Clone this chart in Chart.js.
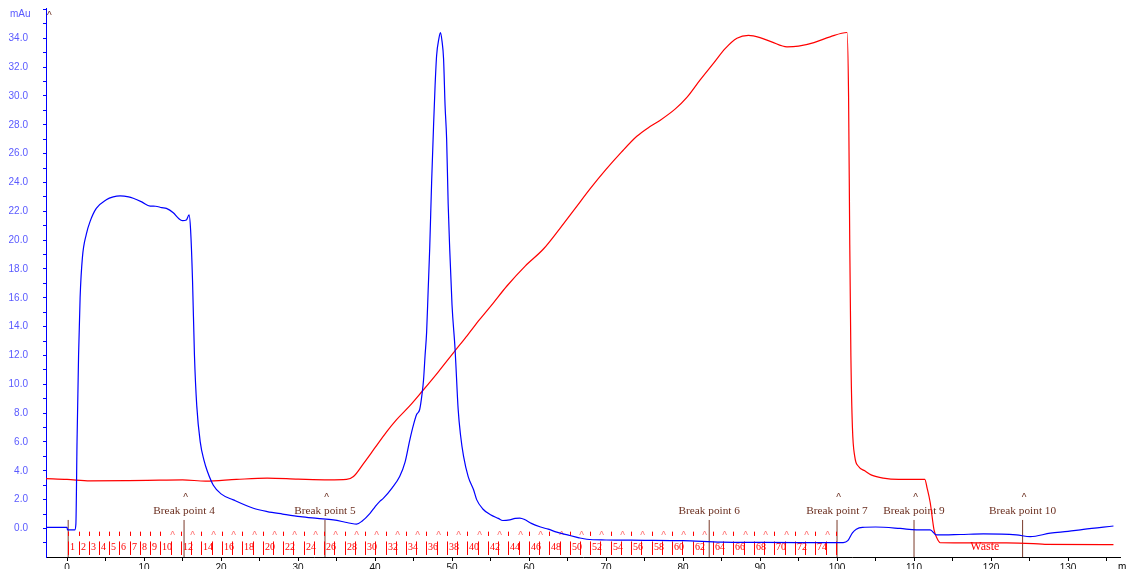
<!DOCTYPE html>
<html>
<head>
<meta charset="utf-8">
<script src="https://cdn.jsdelivr.net/npm/chart.js@4.4.1/dist/chart.umd.min.js"></script>
<style>
  html, body { margin: 0; padding: 0; background: #fff; }
  #chart { display: block; }
</style>
</head>
<body>
<canvas id="chart" width="1130" height="569"></canvas>
<script>
// UV trace (mAu), blue
const uvX = [-2.73, 0.0, 0.06, 1.0, 1.15, 1.3, 1.5, 1.7, 2.0, 2.5, 3.0, 3.8, 5.1, 6.0, 6.9, 8.0, 8.6, 9.7, 10.8, 11.5,
  12.3, 12.9, 13.8, 14.5, 15.0, 15.5, 15.85, 16.05, 16.3, 16.55, 16.85, 17.3, 17.8, 18.2, 19.0, 20.0, 21.6, 24.2, 26.0, 28.0,
  30.3, 32.5, 34.6, 36.0, 36.8, 37.6, 38.3, 39.35, 40.0, 40.65, 41.1, 42.2, 43.2, 43.9, 44.5, 45.0, 45.4, 45.8, 46.1, 46.3,
  46.5, 46.7, 46.9, 47.1, 47.35, 47.6, 47.8, 48.0, 48.3, 48.5, 48.7, 48.9, 49.1, 49.3, 49.5, 49.7, 50.0, 50.4, 50.8, 51.1,
  51.5, 52.1, 52.8, 53.2, 54.0, 55.0, 56.0, 56.6, 57.5, 58.2, 58.8, 59.5, 60.3, 61.5, 62.5, 63.6, 65.0, 66.5, 67.5, 70,
  75, 80, 85, 90, 95, 100.8, 101.4, 102.0, 102.5, 103.3, 105, 108.2, 110.3, 112.1, 112.9, 116, 119, 123.3, 125.1, 127.7,
  130, 132, 135.9];
const uvY = [0.08, 0.08, -0.1, -0.1, 0.3, 6.0, 12.0, 16.0, 18.8, 20.4, 21.3, 22.2, 22.8, 23.0, 23.07, 23.0, 22.9, 22.65, 22.36, 22.35,
  22.25, 22.2, 21.9, 21.5, 21.35, 21.4, 21.75, 20.7, 17.2, 12.0, 8.5, 6.0, 4.7, 4.0, 3.0, 2.4, 1.98, 1.4, 1.17, 1.0,
  0.82, 0.7, 0.59, 0.45, 0.36, 0.3, 0.5, 1.05, 1.5, 1.9, 2.1, 2.8, 3.6, 4.6, 6.1, 7.2, 7.9, 8.25, 9.3, 10.3,
  12.0, 13.6, 16.5, 19.4, 24.0, 27.9, 30.7, 32.8, 34.0, 34.4, 33.8, 32.6, 29.3, 27.0, 22.5, 19.4, 15.5, 12.4, 8.24, 6.5,
  5.0, 3.6, 2.68, 2.0, 1.35, 0.95, 0.7, 0.55, 0.6, 0.7, 0.72, 0.6, 0.35, 0.1, -0.05, -0.25, -0.45, -0.65, -0.75, -0.8,
  -0.82, -0.85, -0.95, -0.97, -0.98, -0.98, -0.85, -0.3, -0.05, 0.08, 0.1, 0.0, -0.1, -0.1, -0.45, -0.42, -0.38, -0.45, -0.57, -0.33,
  -0.2, -0.06, 0.17];

// second trace, red
const redX = [-2.73, 0, 3, 8, 12, 15, 18, 22, 26, 30, 34, 36.3, 37.2, 38.5, 40.0, 41.5, 42.8, 44.5, 46.1, 48.2,
  50.2, 52.0, 53.6, 55.3, 57.1, 59.5, 61.9, 64, 66, 68, 70, 72, 74, 75.5, 77, 79, 80.5, 82.2, 84, 85.5,
  87, 88.5, 90, 91.5, 93.5, 95, 97, 99.1, 101.3, 101.5, 101.65, 101.8, 102.0, 102.3, 102.8, 103.6, 104.5, 106, 108, 111.4,
  111.7, 112.1, 112.6, 113.0, 113.4, 116, 122, 125.5, 127, 135.9];
const redY = [3.45, 3.4, 3.3, 3.32, 3.35, 3.37, 3.28, 3.4, 3.49, 3.42, 3.37, 3.4, 3.6, 4.5, 5.6, 6.7, 7.55, 8.5, 9.5, 10.85,
  12.2, 13.4, 14.5, 15.6, 16.8, 18.2, 19.4, 20.8, 22.2, 23.6, 24.9, 26.1, 27.2, 27.8, 28.3, 29.1, 29.9, 31.1, 32.3, 33.3,
  34.0, 34.2, 34.05, 33.75, 33.4, 33.45, 33.7, 34.1, 34.4, 30, 20, 12, 7.0, 5.0, 4.3, 4.0, 3.7, 3.49, 3.4, 3.4,
  2.8, 1.8, -0.1, -0.7, -0.99, -1.0, -1.0, -1.05, -1.1, -1.12];

// event marks
const breakPointX = [0.15, 15.2, 33.5, 83.4, 100.0, 110.0, 124.1];
const breakPointLabels = ["", "Break point 4", "Break point 5", "Break point 6", "Break point 7", "Break point 9", "Break point 10"];
const breakPointCaret = [false, true, true, false, true, true, true];

// fraction collector
const fractionStart = 0.17;
const fractionSize = 1.329;
const fractionCount = 75;
const wasteLabel = "Waste";
const wasteX = 119.2;

// axes
const xMin = -2.73, xMax = 136.75;
const yMin = -1.98, yMax = 36.1;
const xLabelValues = [0, 10, 20, 30, 40, 50, 60, 70, 80, 90, 100, 110, 120, 130];
const yLabelValues = [0, 2, 4, 6, 8, 10, 12, 14, 16, 18, 20, 22, 24, 26, 28, 30, 32, 34];

const toPoints = (xs, ys) => xs.map((v, i) => ({ x: v, y: ys[i] }));

const markers = {
  id: "markers",
  beforeDatasetsDraw(chart) {
    const { ctx, chartArea } = chart;
    const x = chart.scales.x, y = chart.scales.y;
    const y0 = y.getPixelForValue(0);
    ctx.save();

    // break point lines and labels
    breakPointX.forEach((v, i) => {
      const px = x.getPixelForValue(v);
      ctx.strokeStyle = "#7a3a2a";
      ctx.lineWidth = 1;
      ctx.beginPath();
      ctx.moveTo(px, y0 - 8.5);
      ctx.lineTo(px, chartArea.bottom);
      ctx.stroke();
      ctx.fillStyle = "#6b2f20";
      ctx.textAlign = "center";
      if (breakPointLabels[i]) {
        ctx.font = "11.3px 'Liberation Serif', 'Times New Roman', serif";
        ctx.textBaseline = "middle";
        ctx.fillText(breakPointLabels[i], px, y0 - 17.5);
      }
      if (breakPointCaret[i]) {
        ctx.font = "10px 'Liberation Sans', Arial, sans-serif";
        ctx.textBaseline = "alphabetic";
        ctx.fillText("^", px + 1.5, y0 - 27.5);
      }
    });

    // fraction marks
    for (let k = 0; k <= fractionCount; k++) {
      const px = Math.round(x.getPixelForValue(fractionStart + k * fractionSize)) + 0.5;
      ctx.strokeStyle = "#ff0000";
      ctx.lineWidth = 1;
      ctx.beginPath();
      ctx.moveTo(px, y0 + 13);
      ctx.lineTo(px, chartArea.bottom - 2);
      ctx.stroke();
      if (k >= 10 && k % 2 === 0) {
        ctx.fillStyle = "#ff6a6a";
        ctx.font = "10px 'Liberation Sans', Arial, sans-serif";
        ctx.textAlign = "center";
        ctx.textBaseline = "alphabetic";
        ctx.fillText("^", px + 1, y0 + 10.5);
      } else {
        ctx.beginPath();
        ctx.moveTo(px, y0 + 3.2);
        ctx.lineTo(px, y0 + 7.5);
        ctx.stroke();
      }
      const n = k + 1;
      if (n <= fractionCount && (n <= 10 || n % 2 === 0)) {
        ctx.fillStyle = "#ff0000";
        ctx.font = "10px 'Liberation Serif', 'Times New Roman', serif";
        ctx.textAlign = "left";
        ctx.textBaseline = "middle";
        ctx.fillText(String(n), px + 1.5, y0 + 18.5);
      }
    }
    ctx.fillStyle = "#ff0000";
    ctx.font = "12px 'Liberation Serif', 'Times New Roman', serif";
    ctx.textAlign = "center";
    ctx.textBaseline = "middle";
    ctx.fillText(wasteLabel, x.getPixelForValue(wasteX), y0 + 18.5);
    ctx.restore();
  },
  afterDraw(chart) {
    const { ctx, chartArea } = chart;
    ctx.save();
    ctx.font = "10px 'Liberation Sans', Arial, sans-serif";
    ctx.textBaseline = "middle";
    ctx.textAlign = "left";
    ctx.fillStyle = "#5a5aff";
    ctx.fillText("mAu", 10, 14);
    ctx.fillStyle = "#000";
    ctx.fillText("m", chartArea.right - 2, 567);
    ctx.fillStyle = "#6b2f20";
    ctx.textBaseline = "alphabetic";
    ctx.fillText("^", chartArea.left + 1, 19);
    ctx.restore();
  }
};

const ctx = document.getElementById("chart").getContext("2d");
new Chart(ctx, {
  type: "line",
  data: {
    datasets: [
      {
        label: "UV",
        data: toPoints(uvX, uvY),
        borderColor: "#0000ff",
        borderWidth: 1.2,
        pointRadius: 0,
        fill: false,
        cubicInterpolationMode: "monotone"
      },
      {
        label: "Cond",
        data: toPoints(redX, redY),
        borderColor: "#ff0000",
        borderWidth: 1.2,
        pointRadius: 0,
        fill: false,
        cubicInterpolationMode: "monotone"
      }
    ]
  },
  options: {
    responsive: false,
    animation: false,
    events: [],
    layout: { autoPadding: false, padding: { top: 8, right: 10, left: 0, bottom: 0 } },
    plugins: { legend: { display: false }, tooltip: { enabled: false } },
    scales: {
      x: {
        type: "linear",
        min: xMin,
        max: xMax,
        afterFit: (s) => {
          s.height = 12;
          s.paddingLeft = 0;
          s.paddingRight = 0;
        },
        border: { color: "#000", width: 1 },
        grid: { drawOnChartArea: false, tickLength: 4, tickColor: "#000" },
        ticks: {
          stepSize: 5,
          includeBounds: false,
          autoSkip: false,
          maxRotation: 0,
          padding: 1,
          color: "#111",
          font: { family: "'Liberation Sans', Arial, sans-serif", size: 10 },
          callback: (v) => (xLabelValues.includes(v) ? String(v) : "")
        }
      },
      y: {
        type: "linear",
        min: yMin,
        max: yMax,
        afterFit: (s) => {
          s.width = 46;
          s.paddingTop = 0;
          s.paddingBottom = 0;
        },
        border: { color: "#0000ff", width: 1 },
        grid: { drawOnChartArea: false, tickLength: 3, tickColor: "#0000ff" },
        ticks: {
          stepSize: 1,
          includeBounds: false,
          autoSkip: false,
          padding: 15,
          color: "#5a5aff",
          font: { family: "'Liberation Sans', Arial, sans-serif", size: 10 },
          callback: (v) => (yLabelValues.includes(v) ? v.toFixed(1) : "")
        }
      }
    }
  },
  plugins: [markers]
});
</script>
</body>
</html>
